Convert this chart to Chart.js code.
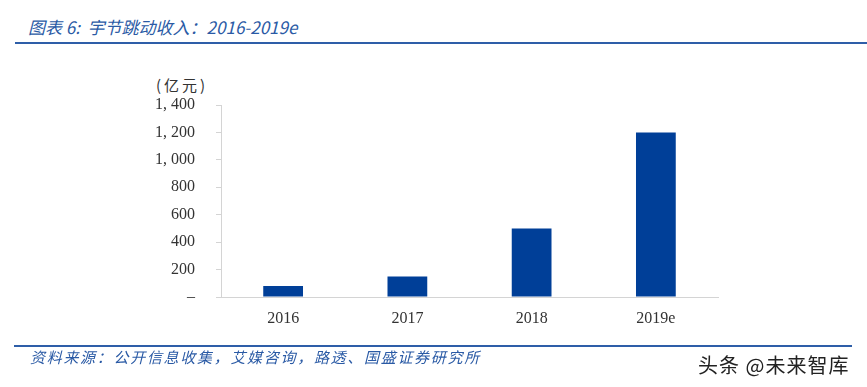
<!DOCTYPE html>
<html>
<head>
<meta charset="utf-8">
<script src="https://cdn.jsdelivr.net/npm/chart.js@4/dist/chart.umd.min.js"></script>
<style>
  body { margin: 0; background: #fff; width: 867px; height: 387px; position: relative; overflow: hidden; }
  .title { position: absolute; left: 28px; top: 14px; font: italic 17px "Noto Sans CJK SC", sans-serif; color: #2a5aa5; }
  .rule { position: absolute; height: 2px; background: #2e5ea8; }
  .source { position: absolute; left: 30px; top: 346px; font: italic 15px "Noto Sans CJK SC", sans-serif; letter-spacing: 1.7px; color: #2a5aa5; }
  .mark { position: absolute; left: 698px; top: 350px; font: 20px "Noto Sans CJK SC", sans-serif; letter-spacing: 1px; color: #222; }
  .unit { position: absolute; left: 156px; top: 74px; font: 15px "Noto Sans CJK SC", serif; letter-spacing: 3px; color: #333; }
  #wrap { position: absolute; left: 0; top: 0; width: 867px; height: 387px; }
</style>
</head>
<body>
<div class="title">图表 6:&nbsp; 宇节跳动收入：2016-2019e</div>
<div class="rule" style="left:15px; top:42px; width:852px;"></div>
<div class="unit">(亿元)</div>
<div id="wrap"><canvas id="myChart" width="867" height="387"></canvas></div>
<div class="rule" style="left:14px; top:345px; width:838px;"></div>
<div class="source">资料来源：公开信息收集，艾媒咨询，路透、国盛证券研究所</div>
<div class="mark">头条 @未来智库</div>
<script>
const years = ["2016", "2017", "2018", "2019e"];
const revenue = [80, 150, 500, 1200];
const yTicks = [0, 200, 400, 600, 800, 1000, 1200, 1400];

const fmt = (v) => {
  if (v === 0) return "–";
  if (v >= 1000) return Math.floor(v / 1000) + ", " + String(v % 1000).padStart(3, "0");
  return String(v);
};

new Chart("myChart", {
  type: "bar",
  data: {
    labels: years,
    datasets: [
      {
        data: revenue,
        backgroundColor: "#003f98",
        barPercentage: 0.64,
        categoryPercentage: 0.5,
      },
    ],
  },
  options: {
    responsive: false,
    animation: false,
    layout: { padding: { left: 0, right: 149, top: 105, bottom: 0 } },
    scales: {
      x: {
        grid: { display: false },
        border: { display: true, color: "#d4d4d4", width: 1 },
        ticks: {
          color: "#333",
          font: { family: "Liberation Serif", size: 16 },
          padding: 4,
        },
        afterFit: (s) => { s.height = 90; },
      },
      y: {
        min: 0,
        max: 1400,
        afterBuildTicks: (s) => { s.ticks = yTicks.map((v) => ({ value: v })); },
        grid: { drawOnChartArea: false, drawTicks: true, tickLength: 5, color: "#d4d4d4" },
        border: { display: true, color: "#d4d4d4", width: 1 },
        ticks: {
          color: "#333",
          font: { family: "Liberation Serif", size: 16 },
          padding: 21,
          callback: (value) => fmt(value),
        },
        afterFit: (s) => { s.width = 221; },
      },
    },
    plugins: {
      legend: { display: false },
      tooltip: { enabled: false },
    },
  },
});
</script>
</body>
</html>
